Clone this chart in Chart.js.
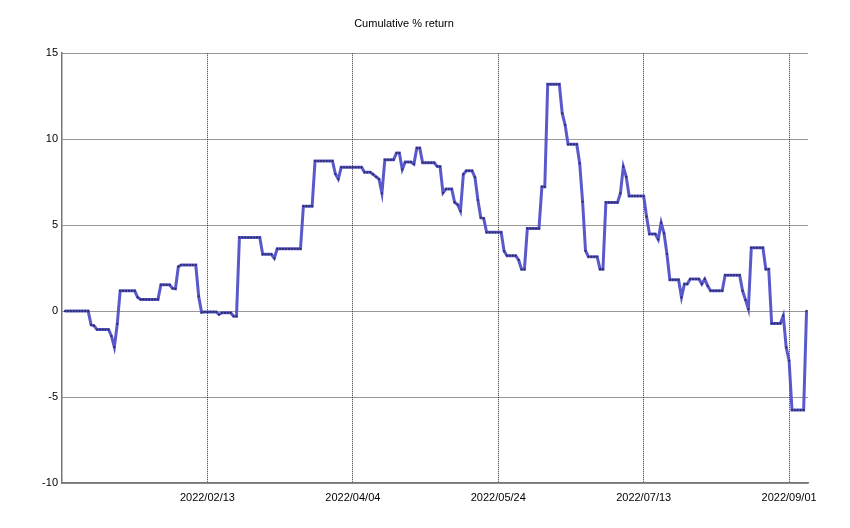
<!DOCTYPE html>
<html>
<head>
<meta charset="utf-8">
<title>Cumulative % return</title>
<script src="https://cdn.jsdelivr.net/npm/chart.js@4.4.0/dist/chart.umd.min.js"></script>
<style>
  html, body { margin: 0; padding: 0; background: #fff; }
  #mycanvas { display: block; }
</style>
</head>
<body>
<canvas id="mycanvas" width="850" height="528"></canvas>
<script>
// one value per calendar day, starting at firstDay
var firstDay = "2021/12/26";
var cumReturn = [
  0, 0, 0, 0, 0, 0, 0, 0, 0, -0.8,
  -0.85, -1.07, -1.07, -1.07, -1.07, -1.07, -1.45, -2.1, -0.75, 1.18,
  1.18, 1.18, 1.18, 1.18, 1.18, 0.8, 0.68, 0.68, 0.68, 0.68,
  0.68, 0.68, 0.68, 1.53, 1.53, 1.53, 1.53, 1.32, 1.3, 2.58,
  2.68, 2.68, 2.68, 2.68, 2.68, 2.68, 0.85, -0.07, -0.05, -0.05,
  -0.05, -0.05, -0.05, -0.2, -0.1, -0.1, -0.1, -0.1, -0.3, -0.3,
  4.28, 4.28, 4.28, 4.28, 4.28, 4.28, 4.28, 4.28, 3.3, 3.3,
  3.3, 3.3, 3.07, 3.62, 3.62, 3.62, 3.62, 3.62, 3.62, 3.62,
  3.62, 3.62, 6.1, 6.1, 6.1, 6.1, 8.73, 8.73, 8.73, 8.73,
  8.73, 8.73, 8.73, 7.97, 7.68, 8.36, 8.36, 8.36, 8.36, 8.36,
  8.36, 8.36, 8.36, 8.07, 8.07, 8.07, 7.95, 7.81, 7.68, 6.85,
  8.8, 8.8, 8.8, 8.8, 9.19, 9.19, 8.24, 8.67, 8.67, 8.67,
  8.55, 9.48, 9.48, 8.63, 8.63, 8.63, 8.63, 8.63, 8.42, 8.4,
  6.88, 7.1, 7.1, 7.1, 6.32, 6.2, 5.82, 7.95, 8.16, 8.16,
  8.16, 7.78, 6.46, 5.43, 5.39, 4.58, 4.58, 4.58, 4.58, 4.58,
  4.58, 3.49, 3.22, 3.22, 3.22, 3.22, 2.97, 2.43, 2.43, 4.81,
  4.81, 4.81, 4.81, 4.81, 7.23, 7.23, 13.19, 13.19, 13.19, 13.19,
  13.19, 11.5, 10.82, 9.7, 9.7, 9.7, 9.7, 8.59, 6.36, 3.51,
  3.16, 3.16, 3.16, 3.16, 2.44, 2.44, 6.32, 6.32, 6.32, 6.32,
  6.32, 6.85, 8.4, 7.81, 6.69, 6.69, 6.69, 6.69, 6.69, 6.69,
  5.49, 4.48, 4.48, 4.48, 4.17, 5.14, 4.52, 3.32, 1.82, 1.82,
  1.82, 1.82, 0.8, 1.57, 1.57, 1.86, 1.86, 1.86, 1.86, 1.57,
  1.86, 1.47, 1.18, 1.18, 1.18, 1.18, 1.18, 2.09, 2.09, 2.09,
  2.09, 2.09, 2.09, 1.18, 0.65, 0.12, 3.68, 3.68, 3.68, 3.68,
  3.68, 2.44, 2.44, -0.72, -0.72, -0.72, -0.72, -0.27, -2.11, -2.89,
  -5.76, -5.76, -5.76, -5.76, -5.76, 0.02
];
var xTickLabels = ["2022/02/13", "2022/04/04", "2022/05/24", "2022/07/13", "2022/09/01"];
var yTickValues = [-10, -5, 0, 5, 10, 15];

function dayNumber(s) {
  var p = s.split("/");
  return Date.UTC(+p[0], +p[1] - 1, +p[2]) / 86400000;
}

var start = dayNumber(firstDay);
var points = [];
for (var i = 0; i < cumReturn.length; i++) {
  points.push({ x: start + i, y: cumReturn[i] });
}
var xTickDays = xTickLabels.map(dayNumber);

Chart.defaults.font.family = "'Liberation Sans', Arial, sans-serif";
Chart.defaults.font.size = 11;
Chart.defaults.color = "#000";

var ctx = document.getElementById("mycanvas");

var LineGraph = new Chart(ctx, {
  type: "line",
  data: {
    datasets: [{
      label: "Cumulative % return",
      data: points,
      borderColor: "rgba(80, 80, 200, 0.95)",
      borderWidth: 3,
      fill: false,
      tension: 0,
      pointRadius: 1.1,
      pointBorderWidth: 0,
      pointBackgroundColor: "#2a2a66",
      pointHoverRadius: 0
    }]
  },
  options: {
    responsive: false,
    animation: false,
    layout: { padding: { left: 0, right: 42, top: 0, bottom: 0 } },
    plugins: {
      legend: { display: false },
      tooltip: { enabled: false },
      title: {
        display: true,
        text: "Cumulative % return",
        color: "#000",
        font: { size: 11, weight: "normal" },
        padding: { top: 17, bottom: 23 }
      }
    },
    scales: {
      x: {
        type: "linear",
        min: start - 1,
        max: start + cumReturn.length - 0.5,
        afterBuildTicks: function (scale) {
          scale.ticks = xTickDays.map(function (v) { return { value: v }; });
        },
        afterFit: function (scale) { scale.height = 45; },
        ticks: {
          padding: 8,
          maxRotation: 0,
          autoSkip: false,
          callback: function (value) {
            var k = xTickDays.indexOf(value);
            return k >= 0 ? xTickLabels[k] : "";
          }
        },
        grid: { color: "#333", lineWidth: 1, drawTicks: false },
        border: { display: true, color: "#777", width: 1.5, dash: [1, 1] }
      },
      y: {
        min: -10,
        max: 15,
        afterBuildTicks: function (scale) {
          scale.ticks = yTickValues.map(function (v) { return { value: v }; });
        },
        afterFit: function (scale) { scale.width = 62; },
        ticks: { padding: 4 },
        grid: { color: "#333", lineWidth: 1, drawTicks: false },
        border: { display: true, color: "#777", width: 1.5, dash: [1, 1] }
      }
    }
  }
});
</script>
</body>
</html>
